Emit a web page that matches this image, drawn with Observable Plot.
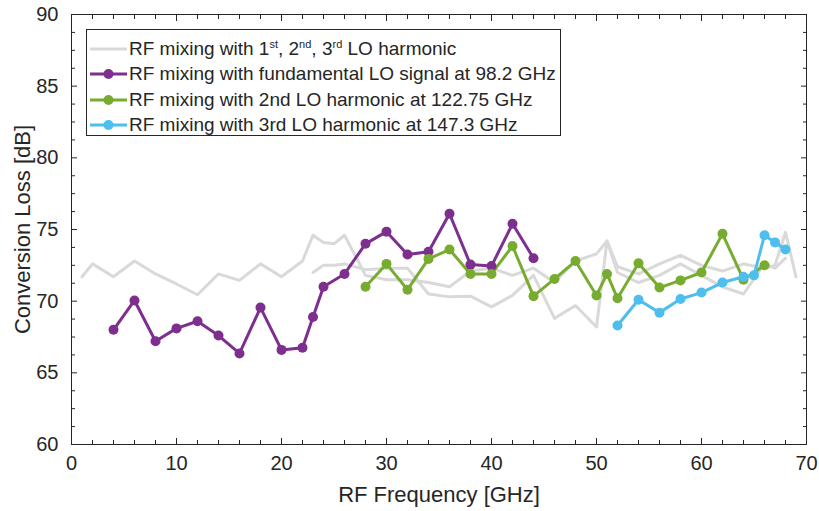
<!DOCTYPE html>
<html>
<head>
<meta charset="utf-8">
<script src="https://cdn.jsdelivr.net/npm/d3@7"></script>
<script src="https://cdn.jsdelivr.net/npm/@observablehq/plot@0.6"></script>
<style>
  html, body { margin: 0; padding: 0; background: #fff; }
  #wrap { position: relative; width: 819px; height: 511px; font-family: "Liberation Sans", Arial, Helvetica, sans-serif; color: #262626; }
  #wrap svg { display: block; }
  #legend { position: absolute; left: 86px; top: 29px; width: 475px; height: 107px; border: 1px solid #262626; background: #fff; box-sizing: border-box; padding-top: 6px; }
  .row { display: flex; align-items: center; height: 25.5px; font-size: 19px; white-space: nowrap; }
  .row svg { flex: none; margin-left: 3px; margin-right: 2px; }
  sup { font-size: 11px; vertical-align: 7px; line-height: 0; }
</style>
</head>
<body>
<div id="wrap"></div>
<script>
// ---- data ----
const gray1Freq = [1,2,4,6,8,10,12,14,16,18,20,22,23,24,25,26,28,30,32,34,36,38,40,42,44,46,48,50,51,52,54,56,58,60,62,64,66,67,68,69];
const gray1Loss = [71.7,72.6,71.7,72.8,71.9,71.2,70.45,71.9,71.45,72.6,71.7,72.8,74.6,74.1,74.0,74.6,71.8,71.5,71.5,71.3,71.0,72.1,72.3,71.8,72.3,71.3,72.8,73.3,74.2,72.4,71.9,72.6,73.2,72.5,72.1,72.6,72.3,72.5,74.8,71.7];
const gray2Freq = [23,24,25,26,28,30,32,34,36,38,40,42,44,46,48,50,51,52,54,56,58,60,62,64,66,67,68];
const gray2Loss = [72.0,72.5,72.5,72.6,72.2,72.3,72.3,70.5,70.3,70.35,69.6,70.4,71.8,68.8,69.7,68.2,74.2,72.0,71.3,71.8,72.6,71.8,71.0,70.5,72.6,72.3,73.0];

const fundFreq = [4,6,8,10,12,14,16,18,20,22,23,24,26,28,30,32,34,36,38,40,42,44];
const fundLoss = [68.0,70.05,67.2,68.1,68.6,67.6,66.35,69.55,66.6,66.75,68.9,71.0,71.9,74.0,74.85,73.25,73.45,76.1,72.55,72.45,75.4,73.0];
const h2Freq = [28,30,32,34,36,38,40,42,44,46,48,50,51,52,54,56,58,60,62,64,66];
const h2Loss = [71.0,72.6,70.8,72.95,73.6,71.9,71.9,73.85,70.35,71.55,72.8,70.4,71.9,70.2,72.65,70.95,71.45,72.0,74.7,71.5,72.5];
const h3Freq = [52,54,56,58,60,62,64,65,66,67,68];
const h3Loss = [68.3,70.1,69.2,70.15,70.6,71.3,71.7,71.8,74.6,74.1,73.6];

const seriesNames = [
  "RF mixing with fundamental LO signal at 98.2 GHz",
  "RF mixing with 2nd LO harmonic at 122.75 GHz",
  "RF mixing with 3rd LO harmonic at 147.3 GHz"
];
const seriesColors = ["#7E2F8E", "#77AC30", "#4DBEEE"];
const grayColor = "#d9d9d9";
const grayLabel = "RF mixing with 1<sup>st</sup>, 2<sup>nd</sup>, 3<sup>rd</sup> LO harmonic";
const xTicks = [0,10,20,30,40,50,60,70];
const yTicks = [60,65,70,75,80,85,90];

// ---- build rows ----
const toRows = (fs, ls, s) => fs.map((f, i) => ({freq: f, loss: ls[i], series: s}));
const grayRows = [...toRows(gray1Freq, gray1Loss, "g1"), ...toRows(gray2Freq, gray2Loss, "g2")];
const colRows = [
  ...toRows(fundFreq, fundLoss, seriesNames[0]),
  ...toRows(h2Freq, h2Loss, seriesNames[1]),
  ...toRows(h3Freq, h3Loss, seriesNames[2])
];

const xMinor = d3.range(0, 70.01, 2).filter(v => v % 10 !== 0);
const yMinor = d3.range(60, 90.01, 1.25).filter(v => v % 5 !== 0);
const axisCol = "#262626";
const MAJ = 6, MIN = 4;

// inward ticks: axis marks drawn outward, then shifted inside by their own length
function inTicks(axis, anchor, ticks, len) {
  const o = {anchor, tickSize: len, tickFormat: () => "", label: null, stroke: axisCol};
  if (anchor === "bottom") o.dy = -len;
  if (anchor === "top") o.dy = len;
  if (anchor === "left") o.dx = len;
  if (anchor === "right") o.dx = -len;
  return axis(ticks, o);
}

const chart = Plot.plot({
  width: 819, height: 511,
  marginLeft: 71, marginRight: 13, marginTop: 14, marginBottom: 67,
  x: {domain: [0, 70]},
  y: {domain: [60, 90]},
  color: {domain: seriesNames, range: seriesColors},
  style: {fontFamily: "'Liberation Sans', Arial, Helvetica, sans-serif", fontSize: "20px", color: axisCol, background: "white", overflow: "visible"},
  marks: [
    Plot.line(grayRows, {x: "freq", y: "loss", z: "series", stroke: grayColor, strokeWidth: 3}),
    Plot.line(colRows, {x: "freq", y: "loss", z: "series", stroke: "series", strokeWidth: 3}),
    Plot.dot(colRows, {x: "freq", y: "loss", fill: "series", r: 5}),
    inTicks(Plot.axisX, "bottom", xTicks, MAJ),
    inTicks(Plot.axisX, "bottom", xMinor, MIN),
    inTicks(Plot.axisX, "top", xTicks, MAJ),
    inTicks(Plot.axisX, "top", xMinor, MIN),
    inTicks(Plot.axisY, "left", yTicks, MAJ),
    inTicks(Plot.axisY, "left", yMinor, MIN),
    inTicks(Plot.axisY, "right", yTicks, MAJ),
    inTicks(Plot.axisY, "right", yMinor, MIN),
    Plot.frame({stroke: axisCol}),
    // tick labels
    Plot.axisX(xTicks, {anchor: "bottom", tickSize: 0, tickPadding: 11, label: null, fill: axisCol}),
    Plot.axisY(yTicks, {anchor: "left", tickSize: 0, tickPadding: 13, label: null, fill: axisCol}),
    // axis titles
    Plot.text(["RF Frequency [GHz]"], {frameAnchor: "bottom", dy: 50, fontSize: 22, lineAnchor: "middle", textAnchor: "middle", fill: axisCol}),
    Plot.text(["Conversion Loss [dB]"], {frameAnchor: "left", dx: -49, rotate: -90, fontSize: 22, lineAnchor: "middle", textAnchor: "middle", fill: axisCol})
  ]
});

const wrap = document.getElementById("wrap");
wrap.appendChild(chart);

// ---- legend (inside plot box) ----
const legend = document.createElement("div");
legend.id = "legend";
const entries = [{label: grayLabel, color: grayColor, dot: false}]
  .concat(seriesNames.map((s, i) => ({label: s, color: seriesColors[i], dot: true})));
for (const e of entries) {
  const row = document.createElement("div");
  row.className = "row";
  const sw = d3.create("svg").attr("width", 37).attr("height", 12);
  sw.append("line").attr("x1", 0).attr("x2", 37).attr("y1", 6).attr("y2", 6)
    .attr("stroke", e.color).attr("stroke-width", 3);
  if (e.dot) sw.append("circle").attr("cx", 18.5).attr("cy", 6).attr("r", 5).attr("fill", e.color);
  row.appendChild(sw.node());
  const t = document.createElement("span");
  t.innerHTML = e.label;
  row.appendChild(t);
  legend.appendChild(row);
}
wrap.appendChild(legend);
</script>
</body>
</html>
